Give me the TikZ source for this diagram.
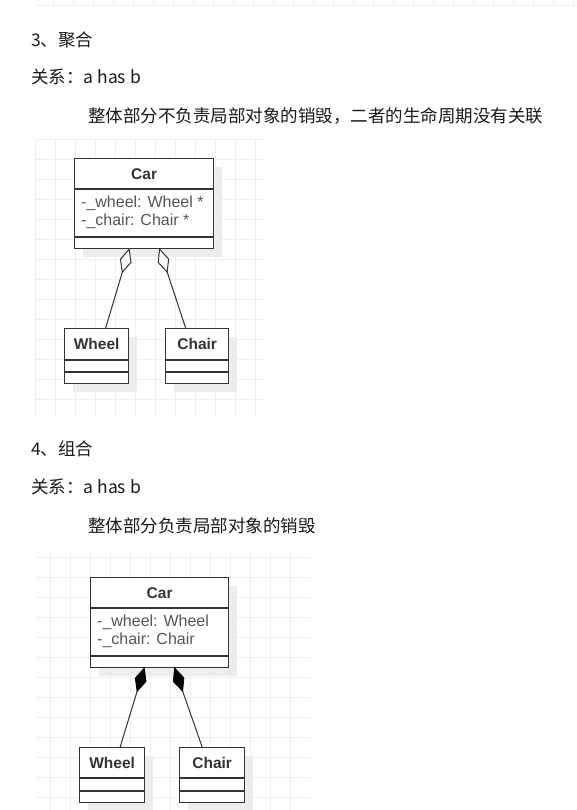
\documentclass[tikz,border=0pt]{standalone}
\usepackage{fontspec}
\setmainfont{Liberation Sans}
\newfontfamily\cjk{Noto Sans CJK SC}
\usetikzlibrary{shadows,calc}
\definecolor{gridc}{HTML}{F0F0F0}
\definecolor{shadc}{HTML}{EDEDED}
\definecolor{boxc}{HTML}{333333}
\definecolor{attrc}{HTML}{555555}
\definecolor{txtc}{HTML}{1A1A1A}
\begin{document}
\begin{tikzpicture}[x=1pt,y=-1pt,
  gridline/.style={draw=gridc, line width=0.8pt},
  umlbox/.style={draw=boxc, line width=1.3pt, fill=white, rectangle, inner sep=0pt, anchor=north west,
    general shadow={fill=shadc, shadow xshift=8pt, shadow yshift=-8pt}},
  divider/.style={draw=boxc, line width=1.3pt},
  umltitle/.style={font=\bfseries\fontsize{15.5}{18}\selectfont, text=boxc, inner sep=0pt},
  umlattr/.style={font=\fontsize{16}{18}\selectfont, text=attrc, inner sep=0pt, anchor=base west},
  cjktext/.style={font=\cjk\fontsize{17.5}{21}\selectfont, text=txtc, inner sep=0pt, anchor=base west},
  conn/.style={draw=boxc, line width=1pt},
  opendia/.style={draw=boxc, line width=1pt, fill=white, line join=miter},
  filldia/.style={draw=black, line width=1pt, fill=black, line join=miter}
]
\useasboundingbox[fill=white] (0,0) rectangle (577,810);

% top grid strip
\foreach \x in {53,73,...,573} \draw[gridline] (\x,0) -- (\x,5);
\draw[gridline] (36,5) -- (577,5);

% grid 1
\foreach \x in {35,55,...,255} \draw[gridline] (\x,140) -- (\x,416);
\foreach \y in {139,159,...,399} \draw[gridline] (35,\y) -- (263,\y);

% grid 2
\foreach \x in {50,70,...,290} \draw[gridline] (\x,552) -- (\x,810);
\foreach \y in {557,577,...,797} \draw[gridline] (36,\y) -- (310,\y);

% texts
\node[cjktext] (t1) at (31,46.6) {3、聚合};
\node[cjktext] (t2) at (31,83.6) {关系：a has b};
\node[cjktext] (t3) at (88,122.6) {整体部分不负责局部对象的销毁，二者的生命周期没有关联};
\node[cjktext] (t4) at (31,455.6) {4、组合};
\node[cjktext] (t5) at (31,493.6) {关系：a has b};
\node[cjktext] (t6) at (88,532.6) {整体部分负责局部对象的销毁};

% ---------- diagram 1 ----------
\node[umlbox, minimum width=139pt, minimum height=90pt] (car1) at (74,158) {};
\draw[divider] ($(car1.north west)+(0,31)$) -- ($(car1.north east)+(0,31)$);
\draw[divider] ($(car1.north west)+(0,79)$) -- ($(car1.north east)+(0,79)$);
\node[umltitle] (car1t) at ($(car1.north)+(0,16)$) {Car};
\node[umlattr] (car1a) at ($(car1.north west)+(7,49.5)$) {-\_wheel: Wheel *};
\node[umlattr] (car1b) at ($(car1.north west)+(7,67.5)$) {-\_chair: Chair *};

\node[umlbox, minimum width=64pt, minimum height=55pt] (wheel1) at (64,328) {};
\draw[divider] ($(wheel1.north west)+(0,32)$) -- ($(wheel1.north east)+(0,32)$);
\draw[divider] ($(wheel1.north west)+(0,44)$) -- ($(wheel1.north east)+(0,44)$);
\node[umltitle] (wheel1t) at ($(wheel1.north)+(0,16)$) {Wheel};

\node[umlbox, minimum width=63pt, minimum height=55pt] (chair1) at (165,328) {};
\draw[divider] ($(chair1.north west)+(0,32)$) -- ($(chair1.north east)+(0,32)$);
\draw[divider] ($(chair1.north west)+(0,44)$) -- ($(chair1.north east)+(0,44)$);
\node[umltitle] (chair1t) at ($(chair1.north)+(0,16)$) {Chair};

\coordinate (a1t) at ([xshift=-15pt]car1.south);
\coordinate (a1w) at ([xshift=9pt]wheel1.north);
\coordinate (a2t) at ([xshift=15.5pt]car1.south);
\coordinate (a2w) at ([xshift=-11.5pt]chair1.north);
\draw[conn] (a1w) -- ($(a1t)!24pt!(a1w)$);
\draw[opendia] (a1t) -- ($(a1t)!13.2pt!24.6:(a1w)$) -- ($(a1t)!24pt!(a1w)$) -- ($(a1t)!13.2pt!-24.6:(a1w)$) -- cycle;
\draw[conn] (a2w) -- ($(a2t)!24pt!(a2w)$);
\draw[opendia] (a2t) -- ($(a2t)!13.2pt!24.6:(a2w)$) -- ($(a2t)!24pt!(a2w)$) -- ($(a2t)!13.2pt!-24.6:(a2w)$) -- cycle;

% ---------- diagram 2 ----------
\node[umlbox, minimum width=138pt, minimum height=90pt] (car2) at (90,577) {};
\draw[divider] ($(car2.north west)+(0,31)$) -- ($(car2.north east)+(0,31)$);
\draw[divider] ($(car2.north west)+(0,79)$) -- ($(car2.north east)+(0,79)$);
\node[umltitle] (car2t) at ($(car2.north)+(0,16)$) {Car};
\node[umlattr] (car2a) at ($(car2.north west)+(7,49.5)$) {-\_wheel: Wheel};
\node[umlattr] (car2b) at ($(car2.north west)+(7,67.5)$) {-\_chair: Chair};

\node[umlbox, minimum width=65pt, minimum height=55pt] (wheel2) at (79,747) {};
\draw[divider] ($(wheel2.north west)+(0,31)$) -- ($(wheel2.north east)+(0,31)$);
\draw[divider] ($(wheel2.north west)+(0,44)$) -- ($(wheel2.north east)+(0,44)$);
\node[umltitle] (wheel2t) at ($(wheel2.north)+(0,16)$) {Wheel};

\node[umlbox, minimum width=65pt, minimum height=55pt] (chair2) at (179,747) {};
\draw[divider] ($(chair2.north west)+(0,31)$) -- ($(chair2.north east)+(0,31)$);
\draw[divider] ($(chair2.north west)+(0,44)$) -- ($(chair2.north east)+(0,44)$);
\node[umltitle] (chair2t) at ($(chair2.north)+(0,16)$) {Chair};

\coordinate (c1t) at ([xshift=-15.5pt]car2.south);
\coordinate (c1w) at ([xshift=8pt]wheel2.north);
\coordinate (c2t) at ([xshift=15pt]car2.south);
\coordinate (c2w) at ([xshift=-10pt]chair2.north);
\draw[conn] (c1w) -- ($(c1t)!24pt!(c1w)$);
\draw[filldia] (c1t) -- ($(c1t)!13.2pt!24.6:(c1w)$) -- ($(c1t)!24pt!(c1w)$) -- ($(c1t)!13.2pt!-24.6:(c1w)$) -- cycle;
\draw[conn] (c2w) -- ($(c2t)!24pt!(c2w)$);
\draw[filldia] (c2t) -- ($(c2t)!13.2pt!24.6:(c2w)$) -- ($(c2t)!24pt!(c2w)$) -- ($(c2t)!13.2pt!-24.6:(c2w)$) -- cycle;
\end{tikzpicture}
\end{document}
